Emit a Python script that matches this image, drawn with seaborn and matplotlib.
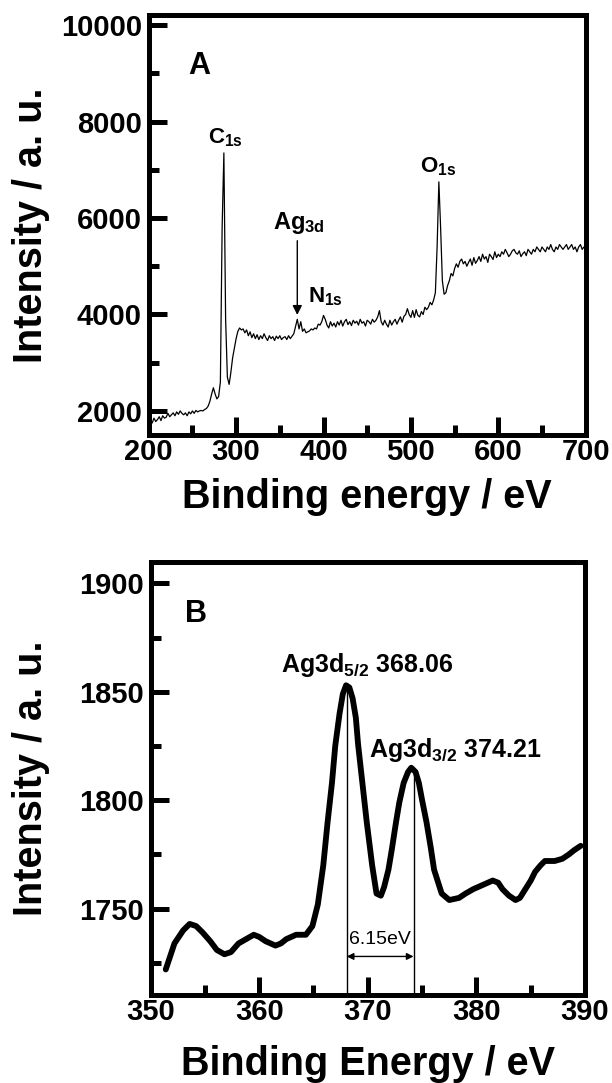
import numpy as np
import pandas as pd
import matplotlib
matplotlib.use('Agg')
import matplotlib.pyplot as plt
from matplotlib.ticker import MultipleLocator
import seaborn as sns

# ---- Panel A: survey spectrum (2 eV steps, 200-700 eV) ----
survey_energy = np.arange(200, 701, 2)
survey_counts = [
    1700, 1800, 1750, 1850, 1780, 1820, 1880, 1800, 1900, 1850,
    1870, 1950, 1880, 1920, 1960, 1900, 1980, 1930, 2000, 1950,
    1920, 1960, 1900, 1980, 1940, 2000, 1950, 2010, 1980, 2000,
    2010, 2000, 2030, 2050, 2100, 2200, 2350, 2480, 2350, 2250,
    2300, 2600, 5800, 7350, 3900, 2700, 2550, 2800, 3100, 3300,
    3500, 3650, 3720, 3680, 3700, 3620, 3680, 3560, 3640, 3520,
    3600, 3500, 3580, 3480, 3560, 3500, 3600, 3520, 3460, 3560,
    3500, 3540, 3460, 3550, 3500, 3560, 3480, 3520, 3540, 3480,
    3560, 3500, 3550, 3600, 3750, 3900, 3700, 3850, 3650, 3700,
    3620, 3640, 3660, 3700, 3680, 3720, 3700, 3800, 3780, 3850,
    3980, 3900, 3780, 3720, 3850, 3760, 3820, 3740, 3850, 3780,
    3880, 3760, 3850, 3900, 3790, 3850, 3770, 3880, 3820, 3860,
    3780, 3900, 3820, 3850, 3760, 3880, 3850, 3800, 3900, 3840,
    3880, 3950, 4080, 3850, 3780, 3880, 3800, 3740, 3880, 3780,
    3850, 3900, 3800, 3880, 3950, 3840, 3960, 4000, 4120, 4000,
    3940, 4080, 3940, 4100, 3980, 3950, 4060, 4000, 4150, 4100,
    4150, 4250, 4200, 4300, 4450, 5400, 6750, 5800, 4700, 4420,
    4450, 4600, 4700, 4850, 4800, 4950, 5050, 4980, 5100, 5150,
    5050, 5100, 5000, 5080, 5150, 5020, 5180, 5060, 5120, 5200,
    5100, 5250, 5150, 5200, 5080, 5250, 5200, 5140, 5300, 5180,
    5250, 5200, 5300, 5250, 5350, 5280, 5200, 5250, 5320, 5350,
    5280, 5250, 5320, 5200, 5260, 5300, 5220, 5350, 5300, 5250,
    5350, 5300, 5400, 5350, 5300, 5400, 5350, 5300, 5400, 5350,
    5450, 5350, 5300, 5400, 5350, 5450, 5400, 5350, 5400, 5450,
    5350, 5400, 5450, 5350, 5400, 5300, 5400, 5450, 5350, 5400,
    5400,
]

# ---- Panel B: Ag 3d high-resolution spectrum ----
ag_energy = [351.4, 352.2, 353.0, 353.6, 354.2, 354.8, 355.5, 356.1, 356.8, 357.4,
             358.1, 358.8, 359.5, 360.0, 360.6, 361.5, 362.0, 362.5, 363.4, 364.3,
             364.9, 365.4, 365.9, 366.3, 366.7, 367.0, 367.4, 367.7, 368.0, 368.3,
             368.6, 368.9, 369.1, 369.5, 369.9, 370.4, 370.8, 371.2, 371.5, 371.9,
             372.2, 372.6, 372.9, 373.3, 373.7, 374.0, 374.4, 374.7, 375.0, 375.4,
             375.8, 376.1, 376.8, 377.5, 378.4, 379.0, 379.7, 380.6, 381.5, 382.0,
             382.4, 383.0, 383.6, 384.0, 384.5, 385.0, 385.4, 385.9, 386.3, 387.2,
             387.9, 388.5, 389.0, 389.6]
ag_counts = [1722, 1734, 1740, 1743, 1742, 1739, 1735, 1731, 1729, 1730,
             1734, 1736, 1738, 1737, 1735, 1733, 1734, 1736, 1738, 1738,
             1742, 1752, 1770, 1790, 1808, 1825, 1840, 1849, 1853, 1852,
             1847, 1838, 1826, 1808, 1790, 1770, 1757, 1756, 1760, 1768,
             1777, 1790, 1799, 1808, 1813, 1815, 1813, 1808, 1800, 1790,
             1778, 1768, 1757, 1754, 1755, 1757, 1759, 1761, 1763, 1762,
             1759, 1756, 1754, 1755, 1759, 1763, 1767, 1770, 1772, 1772,
             1773, 1775, 1777, 1779]
peak_pos = [368.06, 374.21]
peak_height = [1853, 1815]
peak_names = [r'Ag3d$_{5/2}$', r'Ag3d$_{3/2}$']

sns.set_style('ticks')
plt.rcParams['font.family'] = ['Liberation Sans', 'DejaVu Sans']
plt.rcParams['font.weight'] = 'bold'
plt.rcParams['mathtext.fontset'] = 'custom'
plt.rcParams['mathtext.rm'] = 'Liberation Sans:bold'
plt.rcParams['mathtext.bf'] = 'Liberation Sans:bold'
plt.rcParams['mathtext.it'] = 'Liberation Sans:bold'
for key in ['text.color', 'axes.labelcolor', 'axes.edgecolor', 'xtick.color', 'ytick.color']:
    plt.rcParams[key] = 'black'

fig = plt.figure(figsize=(6.12, 10.83), dpi=100)
axA = fig.add_axes([0.243, 0.5983, 0.714, 0.3874])
axB = fig.add_axes([0.246, 0.0808, 0.710, 0.4006])


def style_axis(ax):
    for sp in ax.spines.values():
        sp.set_linewidth(3.6)
        sp.set_color('black')
        sp.set_visible(True)
    ax.tick_params(which='major', direction='in', length=13, width=3.6, labelsize=21)
    ax.tick_params(which='minor', direction='in', length=7, width=3.6)
    ax.tick_params(axis='x', which='major', pad=2)
    ax.tick_params(axis='y', which='major', pad=5)
    ax.tick_params(which='both', colors='black', top=False, right=False)
    for lab in ax.get_xticklabels() + ax.get_yticklabels():
        lab.set_fontweight('bold')
    for t in ax.xaxis.get_ticklines(minor=True) + ax.yaxis.get_ticklines(minor=True) \
            + ax.xaxis.get_ticklines() + ax.yaxis.get_ticklines():
        t.set_solid_capstyle('round')


# Panel A
sns.lineplot(x=survey_energy, y=survey_counts, ax=axA, color='black', lw=0.9)
axA.set_xlim(200, 700)
axA.set_ylim(1500, 10200)
axA.xaxis.set_major_locator(MultipleLocator(100))
axA.xaxis.set_minor_locator(MultipleLocator(50))
axA.yaxis.set_major_locator(MultipleLocator(2000))
axA.yaxis.set_minor_locator(MultipleLocator(1000))
style_axis(axA)
axA.set_xlabel('Binding energy / eV', fontsize=28.5, fontweight='bold')
axA.set_ylabel('Intensity / a. u.', fontsize=28.5, fontweight='bold')
axA.xaxis.set_label_coords(0.5, -0.102)
axA.yaxis.set_label_coords(-0.226, 0.5)
axA.text(245, 8990, 'A', fontsize=22, fontweight='bold')
axA.text(268, 7550, r'C$_{1s}$', fontsize=16, fontweight='bold')
axA.text(510, 6950, r'O$_{1s}$', fontsize=16, fontweight='bold')
axA.text(342, 5770, r'Ag$_{3d}$', fontsize=17, fontweight='bold')
axA.text(382, 4250, r'N$_{1s}$', fontsize=16, fontweight='bold')
axA.annotate('', xy=(370, 3990), xytext=(370, 5530),
             arrowprops=dict(arrowstyle='-|>', color='black', lw=1.0,
                             mutation_scale=14, shrinkA=0, shrinkB=0))

# Panel B
sns.lineplot(x=ag_energy, y=ag_counts, ax=axB, color='black', lw=4.2,
             solid_joinstyle='round', solid_capstyle='round')
axB.set_xlim(350, 390)
axB.set_ylim(1710, 1910)
axB.xaxis.set_major_locator(MultipleLocator(10))
axB.xaxis.set_minor_locator(MultipleLocator(5))
axB.yaxis.set_major_locator(MultipleLocator(50))
axB.yaxis.set_minor_locator(MultipleLocator(25))
style_axis(axB)
axB.set_xlabel('Binding Energy / eV', fontsize=28.5, fontweight='bold')
axB.set_ylabel('Intensity / a. u.', fontsize=28.5, fontweight='bold')
axB.xaxis.set_label_coords(0.5, -0.113)
axB.yaxis.set_label_coords(-0.231, 0.5)
axB.text(353.2, 1882, 'B', fontsize=22, fontweight='bold')
axB.vlines(peak_pos, 1710, peak_height, color='black', lw=1.0)
axB.text(362.0, 1859, f'{peak_names[0]} {peak_pos[0]:.2f}', fontsize=18, fontweight='bold')
axB.text(370.1, 1820, f'{peak_names[1]} {peak_pos[1]:.2f}', fontsize=18, fontweight='bold')
axB.annotate('', xy=(peak_pos[1], 1728), xytext=(peak_pos[0], 1728),
             arrowprops=dict(arrowstyle='<|-|>', color='black', lw=1.0,
                             mutation_scale=10, shrinkA=0, shrinkB=0))
axB.text((peak_pos[0] + peak_pos[1]) / 2, 1736,
         f'{peak_pos[1] - peak_pos[0]:.2f}eV', fontsize=14, fontweight='medium',
         ha='center', va='center')

fig.savefig('out.png', dpi=100)
